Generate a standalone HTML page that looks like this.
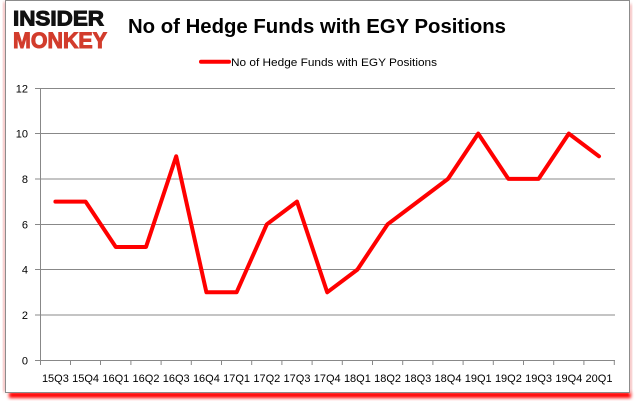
<!DOCTYPE html>
<html><head><meta charset="utf-8"><style>
html,body{margin:0;padding:0;background:#fff;}
svg{display:block;}
</style></head><body>
<svg width="635" height="405" viewBox="0 0 635 405" xmlns="http://www.w3.org/2000/svg">
<defs>
<filter id="blur" x="-10%" y="-50%" width="120%" height="200%"><feGaussianBlur stdDeviation="1.6"/></filter>
</defs>
<rect x="0" y="0" width="635" height="405" fill="#fff"/>
<rect x="9" y="392" width="622" height="6" fill="#ff0000" filter="url(#blur)"/>
<rect x="3" y="2" width="3" height="390" fill="#f4b0b0" filter="url(#blur)"/>
<rect x="629" y="4" width="3" height="390" fill="#f4b0b0" filter="url(#blur)"/>
<rect x="5.5" y="0.5" width="624" height="392" fill="#fff" stroke="#8c8c8c" stroke-width="1"/>
<text x="13" y="25.5" font-family="Liberation Sans, sans-serif" font-weight="bold" font-size="21" fill="#111" stroke="#111" stroke-width="1" textLength="91" lengthAdjust="spacingAndGlyphs">INSIDER</text>
<text x="13" y="48" font-family="Liberation Sans, sans-serif" font-weight="bold" font-size="22" fill="#d23c2c" stroke="#d23c2c" stroke-width="1" textLength="94" lengthAdjust="spacingAndGlyphs">MONKEY</text>
<text x="128" y="33" font-family="Liberation Sans, sans-serif" font-weight="bold" font-size="20.5" fill="#000" textLength="378" lengthAdjust="spacingAndGlyphs">No of Hedge Funds with EGY Positions</text>
<line x1="201" y1="61.7" x2="229" y2="61.7" stroke="#ff0000" stroke-width="4" stroke-linecap="round"/>
<text x="231" y="66" font-family="Liberation Sans, sans-serif" font-size="11" fill="#000" textLength="206" lengthAdjust="spacingAndGlyphs">No of Hedge Funds with EGY Positions</text>
<g stroke="#888" stroke-width="1">
<line x1="35" y1="88.5" x2="615" y2="88.5"/>
<line x1="35" y1="133.5" x2="615" y2="133.5"/>
<line x1="35" y1="179" x2="615" y2="179"/>
<line x1="35" y1="224.5" x2="615" y2="224.5"/>
<line x1="35" y1="269.5" x2="615" y2="269.5"/>
<line x1="35" y1="315" x2="615" y2="315"/>
<line x1="35" y1="360.5" x2="615" y2="360.5"/>
<line x1="40.5" y1="88" x2="40.5" y2="360.5"/>
</g>
<g stroke="#888" stroke-width="1">
<line x1="40.5" y1="360" x2="40.5" y2="365"/>
<line x1="70.5" y1="360" x2="70.5" y2="365"/>
<line x1="100.5" y1="360" x2="100.5" y2="365"/>
<line x1="130.9" y1="360" x2="130.9" y2="365"/>
<line x1="161.1" y1="360" x2="161.1" y2="365"/>
<line x1="191.3" y1="360" x2="191.3" y2="365"/>
<line x1="221.5" y1="360" x2="221.5" y2="365"/>
<line x1="251.7" y1="360" x2="251.7" y2="365"/>
<line x1="281.9" y1="360" x2="281.9" y2="365"/>
<line x1="312.1" y1="360" x2="312.1" y2="365"/>
<line x1="342.3" y1="360" x2="342.3" y2="365"/>
<line x1="372.5" y1="360" x2="372.5" y2="365"/>
<line x1="402.7" y1="360" x2="402.7" y2="365"/>
<line x1="432.9" y1="360" x2="432.9" y2="365"/>
<line x1="463.1" y1="360" x2="463.1" y2="365"/>
<line x1="493.3" y1="360" x2="493.3" y2="365"/>
<line x1="523.5" y1="360" x2="523.5" y2="365"/>
<line x1="553.7" y1="360" x2="553.7" y2="365"/>
<line x1="583.9" y1="360" x2="583.9" y2="365"/>
<line x1="614.3" y1="360" x2="614.3" y2="365"/>
</g>
<g font-family="Liberation Sans, sans-serif" font-size="11" fill="#000" text-anchor="end">
<text x="28" y="92.5">12</text>
<text x="28" y="137.5">10</text>
<text x="28" y="183">8</text>
<text x="28" y="228.5">6</text>
<text x="28" y="273.5">4</text>
<text x="28" y="319">2</text>
<text x="28" y="364.5">0</text>
</g>
<g font-family="Liberation Sans, sans-serif" font-size="11" fill="#000" text-anchor="middle">
<text x="55.4" y="382">15Q3</text>
<text x="85.6" y="382">15Q4</text>
<text x="115.8" y="382">16Q1</text>
<text x="146" y="382">16Q2</text>
<text x="176.2" y="382">16Q3</text>
<text x="206.4" y="382">16Q4</text>
<text x="236.6" y="382">17Q1</text>
<text x="266.8" y="382">17Q2</text>
<text x="297" y="382">17Q3</text>
<text x="327.2" y="382">17Q4</text>
<text x="357.4" y="382">18Q1</text>
<text x="387.6" y="382">18Q2</text>
<text x="417.8" y="382">18Q3</text>
<text x="448" y="382">18Q4</text>
<text x="478.2" y="382">19Q1</text>
<text x="508.4" y="382">19Q2</text>
<text x="538.6" y="382">19Q3</text>
<text x="568.8" y="382">19Q4</text>
<text x="599" y="382">20Q1</text>
</g>
<polyline fill="none" stroke="#ff0000" stroke-width="4" stroke-linejoin="round" stroke-linecap="round"
points="55.4,201.6 85.6,201.6 115.8,247 146,247 176.2,156.3 206.4,292.3 236.6,292.3 266.8,224.3 297,201.6 327.2,292.3 357.4,269.6 387.6,224.3 417.8,201.6 448,178.9 478.2,133.6 508.4,178.9 538.6,178.9 568.8,133.6 599,156.3"/>
</svg>
</body></html>
